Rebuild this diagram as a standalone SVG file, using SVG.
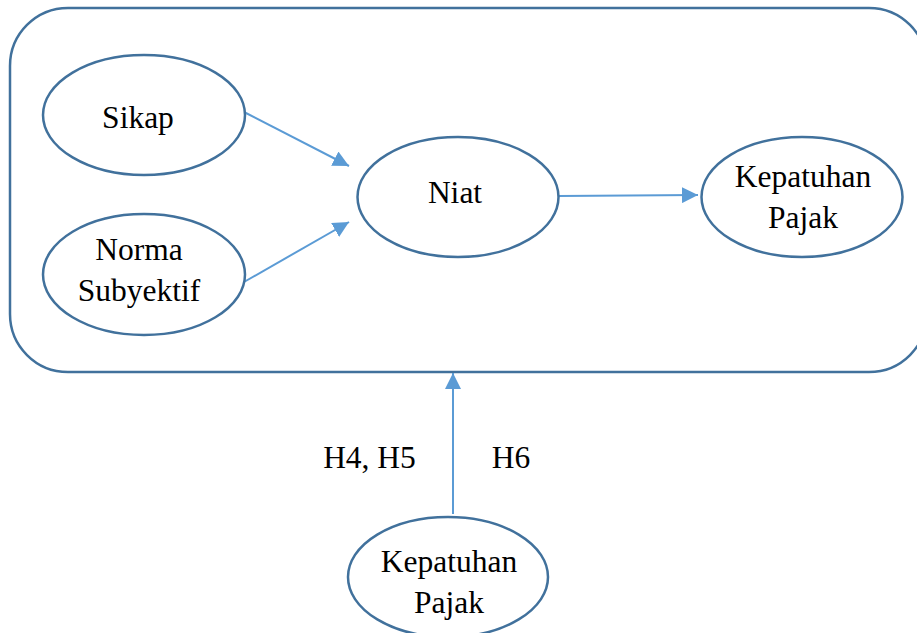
<svg xmlns="http://www.w3.org/2000/svg" width="917" height="633" viewBox="0 0 917 633">
<style>
.frame{fill:none;stroke:#41719C;stroke-width:2.5}
.node ellipse{fill:#fff;stroke:#41719C;stroke-width:2.5}
.node text,.lbl{font-family:"Liberation Serif","Times New Roman",serif;font-size:31.5px;fill:#000;text-anchor:middle}
.edge{stroke:#5B9BD5;stroke-width:2;fill:none}
</style>
<defs>
<marker id="ah" markerUnits="userSpaceOnUse" markerWidth="16" markerHeight="16" refX="16" refY="8" orient="auto">
<path d="M0,0 L16,8 L0,16 z" fill="#5B9BD5"/>
</marker>
</defs>
<rect class="frame" x="10" y="8" width="917" height="364" rx="58" ry="58"/>
<g id="connectors">
<line class="edge" x1="244" y1="112" x2="349" y2="166" marker-end="url(#ah)"/>
<line class="edge" x1="244" y1="282" x2="349" y2="222" marker-end="url(#ah)"/>
<line class="edge" x1="559" y1="196" x2="698" y2="195" marker-end="url(#ah)"/>
<line class="edge" x1="453" y1="514" x2="453" y2="373" marker-end="url(#ah)"/>
</g>
<g id="sikap" class="node">
<ellipse cx="144" cy="115" rx="101" ry="60"/>
<text x="138" y="128">Sikap</text>
</g>
<g id="norma" class="node">
<ellipse cx="144" cy="274.5" rx="101" ry="60.5"/>
<text x="139" y="260">Norma</text>
<text x="139" y="301">Subyektif</text>
</g>
<g id="niat" class="node">
<ellipse cx="458" cy="197" rx="100.5" ry="60"/>
<text x="455" y="203">Niat</text>
</g>
<g id="kepatuhan1" class="node">
<ellipse cx="802" cy="197" rx="100.5" ry="60"/>
<text x="803" y="187">Kepatuhan</text>
<text x="803" y="228">Pajak</text>
</g>
<g id="kepatuhan2" class="node">
<ellipse cx="448" cy="577" rx="100" ry="60"/>
<text x="449" y="572">Kepatuhan</text>
<text x="449" y="613">Pajak</text>
</g>
<text class="lbl" x="369.5" y="468">H4, H5</text>
<text class="lbl" x="511" y="468">H6</text>
</svg>
